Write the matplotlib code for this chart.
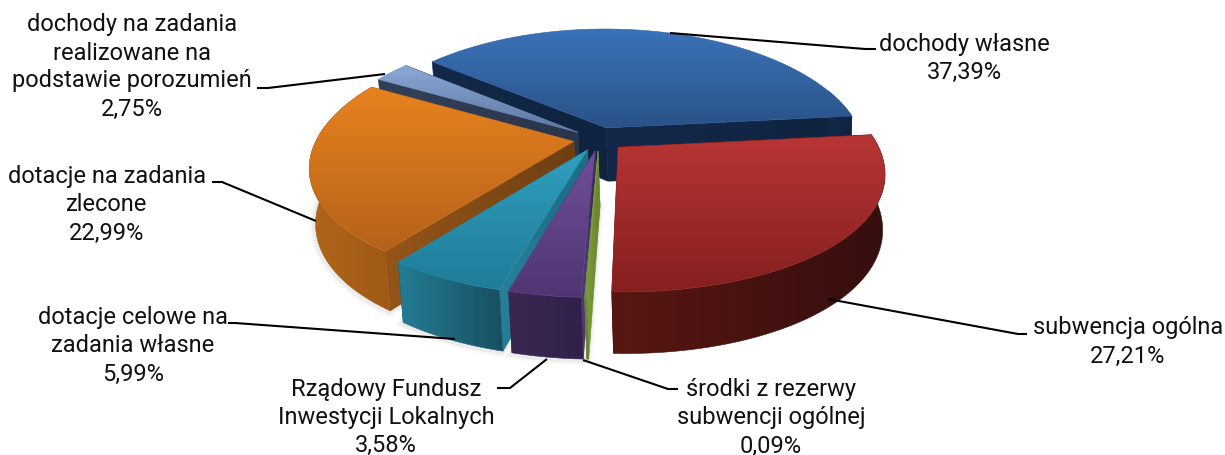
import numpy as np
import matplotlib
matplotlib.use('Agg')
import matplotlib.pyplot as plt
from matplotlib.patches import Polygon
from matplotlib.colors import to_rgb

plt.rcParams['font.family'] = ['Roboto', 'DejaVu Sans']

# data, clockwise from the left edge of the blue slice
names = ['dochody własne', 'subwencja ogólna', 'środki z rezerwy\nsubwencji ogólnej',
         'Rządowy Fundusz\nInwestycji Lokalnych', 'dotacje celowe na\nzadania własne',
         'dotacje na zadania\nzlecone', 'dochody na zadania\nrealizowane na\npodstawie porozumień']
shares = [37.39, 27.21, 0.09, 3.58, 5.99, 22.99, 2.75]
pct_labels = ['37,39%', '27,21%', '0,09%', '3,58%', '5,99%', '22,99%', '2,75%']

# top gradient (upper, lower), outer wall (left, right), radial wall (upper, lower)
top_cols = [('#3a72b8', '#2a5288'), ('#b83535', '#861f1f'), ('#8fb04a', '#6f8c33'),
            ('#704f98', '#4f3672'), ('#2f9fbe', '#1f7c98'), ('#e8821f', '#b5621a'),
            ('#8ba8d6', '#5c76a2')]
wall_cols = [('#12294a', '#0f2340'), ('#581713', '#360e0e'), ('#6f8c33', '#5f7a2b'),
             ('#3b2852', '#30204a'), ('#237d94', '#194f62'), ('#b0651b', '#a05a16'),
             ('#2f3b52', '#2a354a')]
side_cols = [('#14294a', '#0f2340'), ('#581713', '#360e0e'), ('#7d9c3c', '#66832e'),
             ('#52397a', '#3f2c5c'), ('#26809a', '#1f6d84'), ('#95551a', '#6e3f10'),
             ('#333f58', '#2a354a')]
draw_order = [0, 6, 5, 4, 3, 2, 1]

label_x = [964, 1128, 771, 386, 133, 107, 132]
label_y = [44, 328, 390, 389.5, 318, 177, 25]
leaders = [[(670, 34), (865, 50), (876, 50)],
           [(828, 300), (1018, 335), (1027, 335)],
           [(583, 361), (668, 390), (678, 390)],
           [(547, 360), (510, 389), (497, 389)],
           [(455, 340), (235, 324), (228, 324)],
           [(316, 222), (222, 183), (212, 183)],
           [(385, 75), (268, 89), (257, 89)]]

cx, cy = 599, 140
rx, ry = 257, 118.3
persp_x = 0.2
persp_y = 0.163
explode = 0.1
thick = 54
start_angle = 140.6


def project(u, v, low=False):
    sx = 1 / (1 + persp_x * v)
    sy = 1 / (1 + persp_y * v)
    x = cx + rx * u * sx
    y = cy - ry * v * sy
    if low:
        x = cx + 2 + 0.985 * rx * u * sx
        y = cy - 0.975 * ry * v * sy + thick * sy
    return x, y


fig = plt.figure(figsize=(12.25, 4.56), dpi=100)
ax = fig.add_axes([0, 0, 1, 1])
ax.set_xlim(0, 1225)
ax.set_ylim(456, 0)
ax.axis('off')
z = [2]


def grad_poly(xs, ys, c1, c2, horizontal=False):
    t = np.linspace(0, 1, 64)[:, None]
    img = (1 - t) * np.array(to_rgb(c1)) + t * np.array(to_rgb(c2))
    img = img[None, :, :] if horizontal else img[:, None, :]
    z[0] += 1
    im = ax.imshow(img, extent=(min(xs), max(xs), max(ys), min(ys)), aspect='auto',
                   zorder=z[0], interpolation='bilinear')
    poly = Polygon(np.column_stack([xs, ys]), closed=True, transform=ax.transData,
                   fill=False, edgecolor='none')
    ax.add_patch(poly)
    im.set_clip_path(poly)
    mid = (np.array(to_rgb(c1)) + np.array(to_rgb(c2))) / 2
    ax.add_patch(Polygon(np.column_stack([xs, ys]), closed=True, fill=False,
                         edgecolor=mid, linewidth=0.4, zorder=z[0]))


sweeps = np.array(shares) / sum(shares) * 360
ends = start_angle - np.cumsum(sweeps)
starts = ends + sweeps

for i in draw_order:
    a0, a1 = np.radians(starts[i]), np.radians(ends[i])
    mid = (a0 + a1) / 2
    u0, v0 = explode * np.cos(mid), explode * np.sin(mid)
    arc = np.linspace(a0, a1, 80)
    au, av = u0 + np.cos(arc), v0 + np.sin(arc)
    tx, ty = project(au, av)
    bx, by = project(au, av, low=True)
    ax0, ay0 = project(u0, v0)
    bx0, by0 = project(u0, v0, low=True)

    # soft shadow under the front slices
    if i in (2, 3, 4, 5):
        for w, al in [(7, 0.04), (4, 0.07)]:
            z[0] += 1
            ax.plot(np.r_[bx0, bx] - 1, np.r_[by0, by] + 1, color='#555555', lw=w, alpha=al,
                    zorder=z[0])

    # radial walls first, then the outer wall, the top goes over them
    grad_poly([ax0, tx[0], bx[0], bx0], [ay0, ty[0], by[0], by0], *side_cols[i], horizontal=True)
    grad_poly([ax0, tx[-1], bx[-1], bx0], [ay0, ty[-1], by[-1], by0], *side_cols[i], horizontal=True)
    front = av < v0 + 0.35
    if i in (1, 5):
        front = av < v0 + 1.0
    if front.sum() > 1:
        grad_poly(np.r_[tx[front], bx[front][::-1]], np.r_[ty[front], by[front][::-1]],
                  *wall_cols[i], horizontal=True)
    grad_poly(np.r_[ax0, tx], np.r_[ay0, ty], *top_cols[i])

for i in range(len(names)):
    ax.plot(*zip(*leaders[i]), color='black', lw=1.5, zorder=1000, solid_capstyle='butt')
    lines = names[i].split('\n') + [pct_labels[i]]
    for j, line in enumerate(lines):
        ax.text(label_x[i], label_y[i] + j * 28.0, line, ha='center', va='center',
                fontsize=17, color='#111111', zorder=1001)

fig.savefig('out.png', dpi=100, facecolor='white')
